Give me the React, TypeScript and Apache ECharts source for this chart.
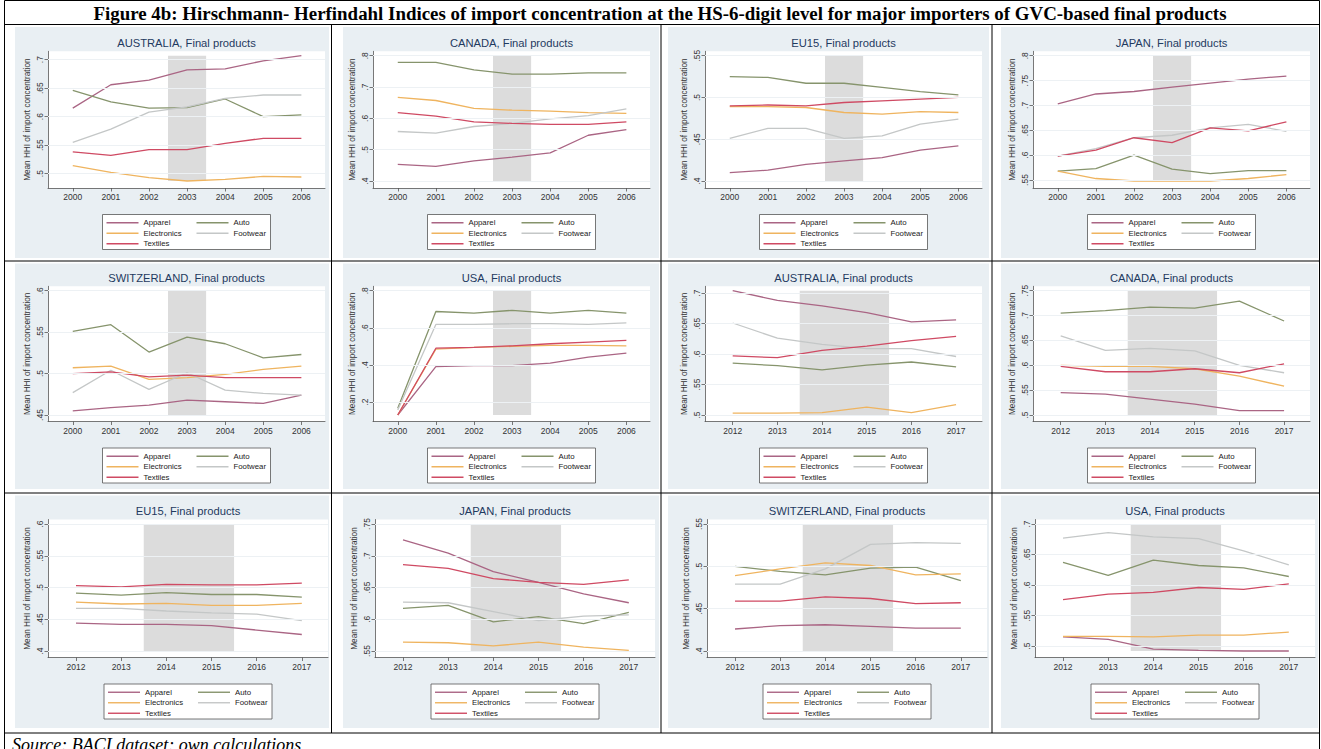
import React, { useEffect, useRef } from 'react';
import * as echarts from 'echarts';

// ---------------- data ----------------
const YEARS_EARLY = [2000, 2001, 2002, 2003, 2004, 2005, 2006];
const YEARS_LATE = [2012, 2013, 2014, 2015, 2016, 2017];
const SHADE_EARLY = [2002.5, 2003.5];
const SHADE_LATE = [2013.5, 2015.5];

const PANEL_TITLES = [
  'AUSTRALIA, Final products', 'CANADA, Final products', 'EU15, Final products', 'JAPAN, Final products',
  'SWITZERLAND, Final products', 'USA, Final products', 'AUSTRALIA, Final products', 'CANADA, Final products',
  'EU15, Final products', 'JAPAN, Final products', 'SWITZERLAND, Final products', 'USA, Final products',
];

const SECTORS = ['Apparel', 'Auto', 'Electronics', 'Footwear', 'Textiles'];

const APPAREL = [
  [0.615, 0.656, 0.664, 0.682, 0.684, 0.698, 0.707],
  [0.453, 0.447, 0.464, 0.476, 0.49, 0.546, 0.564],
  [0.41, 0.413, 0.42, 0.424, 0.428, 0.437, 0.442],
  [0.703, 0.723, 0.728, 0.737, 0.745, 0.753, 0.759],
  [0.455, 0.459, 0.462, 0.468, 0.466, 0.464, 0.474],
  [0.13, 0.391, 0.396, 0.396, 0.41, 0.442, 0.463],
  [0.704, 0.688, 0.679, 0.668, 0.653, 0.656],
  [0.545, 0.542, 0.532, 0.522, 0.509, 0.509],
  [0.444, 0.442, 0.442, 0.44, 0.433, 0.426],
  [0.725, 0.704, 0.675, 0.658, 0.64, 0.626],
  [0.426, 0.43, 0.431, 0.429, 0.427, 0.427],
  [0.515, 0.511, 0.495, 0.493, 0.492, 0.492],
];
const AUTO = [
  [0.646, 0.626, 0.615, 0.616, 0.631, 0.6, 0.603],
  [0.779, 0.779, 0.755, 0.741, 0.741, 0.745, 0.745],
  [0.525, 0.524, 0.517, 0.517, 0.512, 0.507, 0.503],
  [0.568, 0.573, 0.6, 0.572, 0.563, 0.569, 0.569],
  [0.551, 0.559, 0.526, 0.544, 0.536, 0.519, 0.523],
  [0.166, 0.688, 0.679, 0.694, 0.679, 0.694, 0.679],
  [0.585, 0.581, 0.574, 0.582, 0.587, 0.579],
  [0.705, 0.71, 0.717, 0.715, 0.729, 0.689],
  [0.491, 0.488, 0.492, 0.489, 0.489, 0.485],
  [0.617, 0.622, 0.596, 0.604, 0.593, 0.611],
  [0.5, 0.494, 0.49, 0.498, 0.499, 0.483],
  [0.637, 0.616, 0.641, 0.632, 0.628, 0.614],
];
const ELECTRONICS = [
  [0.514, 0.502, 0.493, 0.487, 0.49, 0.495, 0.494],
  [0.667, 0.657, 0.632, 0.626, 0.623, 0.618, 0.616],
  [0.489, 0.489, 0.488, 0.482, 0.48, 0.483, 0.482],
  [0.568, 0.553, 0.548, 0.548, 0.548, 0.553, 0.561],
  [0.507, 0.509, 0.493, 0.495, 0.499, 0.505, 0.509],
  [0.13, 0.485, 0.494, 0.5, 0.505, 0.505, 0.503],
  [0.503, 0.503, 0.504, 0.513, 0.504, 0.517],
  [0.6, 0.598, 0.598, 0.593, 0.578, 0.558],
  [0.477, 0.474, 0.475, 0.472, 0.472, 0.475],
  [0.564, 0.563, 0.558, 0.564, 0.556, 0.551],
  [0.489, 0.497, 0.504, 0.501, 0.49, 0.491],
  [0.516, 0.516, 0.515, 0.518, 0.518, 0.523],
];
const FOOTWEAR = [
  [0.555, 0.578, 0.608, 0.617, 0.632, 0.638, 0.638],
  [0.558, 0.553, 0.574, 0.584, 0.598, 0.609, 0.63],
  [0.451, 0.463, 0.463, 0.451, 0.454, 0.468, 0.474],
  [0.598, 0.613, 0.635, 0.64, 0.655, 0.662, 0.648],
  [0.477, 0.504, 0.481, 0.501, 0.48, 0.476, 0.474],
  [0.157, 0.618, 0.618, 0.622, 0.622, 0.618, 0.627],
  [0.651, 0.626, 0.616, 0.609, 0.609, 0.596],
  [0.659, 0.63, 0.634, 0.629, 0.6, 0.585],
  [0.467, 0.467, 0.463, 0.46, 0.458, 0.448],
  [0.627, 0.626, 0.612, 0.598, 0.605, 0.607],
  [0.479, 0.479, 0.497, 0.526, 0.528, 0.527],
  [0.677, 0.686, 0.679, 0.676, 0.656, 0.633],
];
const TEXTILES = [
  [0.538, 0.532, 0.542, 0.542, 0.553, 0.562, 0.562],
  [0.618, 0.607, 0.589, 0.584, 0.581, 0.581, 0.589],
  [0.49, 0.491, 0.49, 0.494, 0.496, 0.498, 0.5],
  [0.598, 0.61, 0.635, 0.625, 0.655, 0.649, 0.667],
  [0.5, 0.502, 0.496, 0.498, 0.495, 0.495, 0.495],
  [0.13, 0.49, 0.494, 0.503, 0.514, 0.523, 0.532],
  [0.597, 0.594, 0.606, 0.613, 0.622, 0.629],
  [0.598, 0.587, 0.587, 0.593, 0.585, 0.603],
  [0.503, 0.501, 0.505, 0.504, 0.504, 0.507],
  [0.686, 0.68, 0.664, 0.658, 0.655, 0.662],
  [0.459, 0.459, 0.464, 0.462, 0.456, 0.457],
  [0.576, 0.585, 0.588, 0.596, 0.593, 0.602],
];

const Y_TICKS = [
  [0.5, 0.55, 0.6, 0.65, 0.7],
  [0.4, 0.5, 0.6, 0.7, 0.8],
  [0.4, 0.45, 0.5, 0.55],
  [0.55, 0.6, 0.65, 0.7, 0.75, 0.8],
  [0.45, 0.5, 0.55, 0.6],
  [0.2, 0.4, 0.6, 0.8],
  [0.5, 0.55, 0.6, 0.65, 0.7],
  [0.5, 0.55, 0.6, 0.65, 0.7, 0.75],
  [0.4, 0.45, 0.5, 0.55, 0.6],
  [0.55, 0.6, 0.65, 0.7, 0.75],
  [0.4, 0.45, 0.5, 0.55],
  [0.5, 0.55, 0.6, 0.65, 0.7],
];
// Stata axis range (min of data/ticks, max of data/ticks); also the shaded band's extent
const RANGE_LO = [0.487, 0.4, 0.4, 0.548, 0.45, 0.13, 0.5, 0.5, 0.4, 0.55, 0.4, 0.492];
const RANGE_HI = [0.707, 0.8, 0.55, 0.8, 0.6, 0.8, 0.704, 0.75, 0.6, 0.75, 0.55, 0.7];

const MAIN_TITLE =
  'Figure 4b: Hirschmann- Herfindahl Indices of import concentration at the HS-6-digit level for major importers of GVC-based final products';
const SOURCE_TEXT = 'Source: BACI dataset; own calculations';
const Y_NAME = 'Mean HHI of import concentration';

// ---------------- styling / layout ----------------
const SANS = '"Liberation Sans", Arial, Helvetica, sans-serif';
const SERIF = '"Liberation Serif", "Times New Roman", serif';
const COLORS: Record<string, string> = {
  Apparel: '#aa6584',
  Auto: '#86946c',
  Electronics: '#efb45f',
  Footwear: '#c4c7c7',
  Textiles: '#cf4a63',
};
const BG = '#e9eff3';
const AXIS_COLOR = '#555';

const ROWS = [
  { plotTop: 51.3, innerTop: 55.7, innerBottom: 181, axisY: 188, titleY: 43, imgTop: 27, imgBottom: 258 },
  { plotTop: 286.3, innerTop: 290.7, innerBottom: 415, axisY: 421.5, titleY: 278, imgTop: 263.5, imgBottom: 489 },
  { plotTop: 519.5, innerTop: 524, innerBottom: 651, axisY: 657.5, titleY: 511, imgTop: 495.5, imgBottom: 728 },
];
const COL_IMG_L = [15, 343, 668, 1001];
const COL_IMG_R = [329, 659, 989, 1318];
const COL_AXIS = [
  [48, 373, 705, 1033],
  [48, 373, 705, 1033],
  [48, 375, 707, 1035],
];
const PLOT_W = [277, 277, 280];
const X_RANGE_EARLY = [1999.35, 2006.62];
const X_RANGE_LATE = [2011.38, 2017.58];

const H_LINES = [0.5, 24.5, 261, 493, 733];
const V_INNER = [331.5, 661, 992];
const LEFT_BORDER = 4.5;
const RIGHT_BORDER = 1319.5;

function fmtTick(v: number) {
  return String(v).replace(/^0\./, '.');
}

function buildOption() {
  const data = [APPAREL, AUTO, ELECTRONICS, FOOTWEAR, TEXTILES];
  const grids: any[] = [];
  const xAxes: any[] = [];
  const yAxes: any[] = [];
  const series: any[] = [];
  const legends: any[] = [];
  const graphics: any[] = [];

  for (let i = 0; i < 12; i++) {
    const r = Math.floor(i / 4);
    const c = i % 4;
    const row = ROWS[r];
    const early = i < 6;
    const years = early ? YEARS_EARLY : YEARS_LATE;
    const shade = early ? SHADE_EARLY : SHADE_LATE;
    const xr = early ? X_RANGE_EARLY : X_RANGE_LATE;
    const left = COL_AXIS[r][c];
    const w = PLOT_W[r];
    const lo = RANGE_LO[i];
    const hi = RANGE_HI[i];
    const scale = (hi - lo) / (row.innerBottom - row.innerTop);
    const ymax = hi + (row.innerTop - row.plotTop) * scale;
    const ymin = lo - (row.axisY - row.innerBottom) * scale;
    const cx = left + w / 2;

    graphics.push({
      type: 'rect',
      z: -5,
      silent: true,
      shape: { x: COL_IMG_L[c], y: row.imgTop, width: COL_IMG_R[c] - COL_IMG_L[c], height: row.imgBottom - row.imgTop },
      style: { fill: BG },
    });
    graphics.push({
      type: 'text',
      z: 5,
      x: cx,
      y: row.titleY,
      style: {
        text: PANEL_TITLES[i],
        align: 'center',
        verticalAlign: 'middle',
        fill: '#1f3a5f',
        font: `11.2px ${SANS}`,
      },
    });
    graphics.push({
      type: 'rect',
      z: 3,
      silent: true,
      shape: { x: cx - 84, y: row.axisY + 26.5, width: 168, height: 35 },
      style: { fill: '#fff', stroke: '#555', lineWidth: 0.8 },
    });

    grids.push({
      left,
      top: row.plotTop,
      width: w,
      height: row.axisY - row.plotTop,
      show: true,
      backgroundColor: '#fff',
      borderWidth: 0,
    });
    xAxes.push({
      type: 'value',
      gridIndex: i,
      min: xr[0],
      max: xr[1],
      axisLine: { show: true, onZero: false, lineStyle: { color: AXIS_COLOR, width: 0.8 } },
      axisTick: { show: true, customValues: years, length: 3.5, lineStyle: { color: AXIS_COLOR, width: 0.8 } },
      axisLabel: {
        customValues: years,
        fontSize: 8.5,
        color: '#333',
        margin: 4.5,
        fontFamily: SANS,
        formatter: (v: number) => String(v),
      },
      splitLine: { show: false },
    });
    yAxes.push({
      type: 'value',
      gridIndex: i,
      min: ymin,
      max: ymax,
      name: Y_NAME,
      nameLocation: 'middle',
      nameGap: 17,
      nameTextStyle: { fontSize: 8.2, color: '#333', fontFamily: SANS },
      axisLine: { show: true, lineStyle: { color: AXIS_COLOR, width: 0.8 } },
      axisTick: { show: true, customValues: Y_TICKS[i], length: 3.5, lineStyle: { color: AXIS_COLOR, width: 0.8 } },
      axisLabel: {
        customValues: Y_TICKS[i],
        rotate: 90,
        fontSize: 8.5,
        color: '#333',
        margin: 4,
        fontFamily: SANS,
        formatter: (v: number) => fmtTick(v),
      },
      splitLine: { show: false },
    });

    series.push({
      type: 'line',
      name: 'band' + i,
      xAxisIndex: i,
      yAxisIndex: i,
      data: [],
      silent: true,
      z: 1,
      markArea: {
        silent: true,
        itemStyle: { color: '#dcdcdc' },
        data: [[{ xAxis: shade[0], yAxis: lo }, { xAxis: shade[1], yAxis: hi }]],
      },
      markLine: {
        silent: true,
        symbol: 'none',
        label: { show: false },
        lineStyle: { color: '#edf1f4', type: 'solid', width: 1 },
        data: Y_TICKS[i].map((t) => ({ yAxis: t })),
      },
    });

    SECTORS.forEach((s, k) => {
      series.push({
        type: 'line',
        name: s,
        xAxisIndex: i,
        yAxisIndex: i,
        data: years.map((y, j) => [y, data[k][i][j]]),
        symbol: 'none',
        showSymbol: false,
        lineStyle: { color: COLORS[s], width: 1.3 },
        itemStyle: { color: COLORS[s] },
        z: 3,
      });
    });

    legends.push({
      data: SECTORS,
      left: cx - 80,
      top: row.axisY + 30.5,
      orient: 'horizontal',
      width: 200,
      padding: 0,
      icon: 'rect',
      itemWidth: 32,
      itemHeight: 1.4,
      itemGap: 2,
      selectedMode: false,
      textStyle: { fontSize: 7.8, color: '#222', fontFamily: SANS, width: 51, lineHeight: 8.5 },
    });
  }

  graphics.push({
    type: 'text',
    z: 5,
    x: 660,
    y: 13,
    style: {
      text: MAIN_TITLE,
      align: 'center',
      verticalAlign: 'middle',
      fill: '#000',
      font: `bold 18.9px ${SERIF}`,
    },
  });
  graphics.push({
    type: 'text',
    z: 5,
    x: 12,
    y: 736,
    style: {
      text: SOURCE_TEXT,
      align: 'left',
      verticalAlign: 'top',
      fill: '#000',
      font: `italic 18px ${SERIF}`,
    },
  });
  H_LINES.forEach((y) => {
    graphics.push({
      type: 'line',
      z: 10,
      silent: true,
      shape: { x1: LEFT_BORDER, y1: y, x2: RIGHT_BORDER, y2: y },
      style: { stroke: '#000', lineWidth: 1 },
    });
  });
  [LEFT_BORDER, RIGHT_BORDER].forEach((x) => {
    graphics.push({
      type: 'line',
      z: 10,
      silent: true,
      shape: { x1: x, y1: 0.5, x2: x, y2: 749 },
      style: { stroke: '#000', lineWidth: 1 },
    });
  });
  V_INNER.forEach((x) => {
    graphics.push({
      type: 'line',
      z: 10,
      silent: true,
      shape: { x1: x, y1: 24.5, x2: x, y2: 733 },
      style: { stroke: '#000', lineWidth: 1 },
    });
  });

  return {
    animation: false,
    backgroundColor: '#fff',
    textStyle: { fontFamily: SANS },
    grid: grids,
    xAxis: xAxes,
    yAxis: yAxes,
    legend: legends,
    series,
    graphic: { elements: graphics },
  };
}

export default function App() {
  const ref = useRef<HTMLDivElement>(null);
  useEffect(() => {
    if (!ref.current) return;
    const chart = echarts.init(ref.current, undefined, { renderer: 'svg' });
    chart.setOption(buildOption() as any);
    return () => chart.dispose();
  }, []);
  return (
    <div
      ref={ref}
      style={{ position: 'absolute', left: 0, top: 0, width: 1321, height: 749, background: '#fff' }}
    />
  );
}
